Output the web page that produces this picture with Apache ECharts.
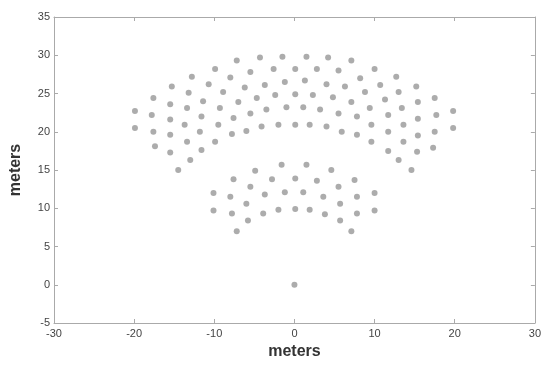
<!DOCTYPE html>
<html><head><meta charset="utf-8">
<script src="https://cdn.jsdelivr.net/npm/echarts@6/dist/echarts.min.js"></script>
<style>html,body{margin:0;padding:0;background:#fff}#c{width:544px;height:365px}</style>
</head><body><div id="c"></div>
<script>
// Upper group arcs, x and y in meters
var arc1X = [-19.9,-17.6,-15.3,-12.8,-9.9,-7.2,-4.3,-1.5,1.5,4.2,7.1,10.0,12.7,15.2,17.5,19.8];
var arc1Y = [22.7,24.4,25.9,27.2,28.2,29.3,29.7,29.8,29.8,29.7,29.3,28.2,27.2,25.9,24.4,22.7];
var arc2X = [-19.9,-17.8,-15.5,-13.2,-10.7,-8.0,-5.5,-2.6,0.1,2.8,5.5,8.2,10.7,13.0,15.4,17.7,19.8];
var arc2Y = [20.5,22.2,23.6,25.1,26.2,27.1,27.8,28.2,28.2,28.2,28.0,27.0,26.1,25.2,23.9,22.2,20.5];
var arc3X = [-17.6,-15.5,-13.4,-11.4,-8.9,-6.2,-3.7,-1.2,1.3,4.0,6.3,8.8,11.3,13.4,15.4,17.5];
var arc3Y = [20.0,21.6,23.1,24.0,25.2,25.8,26.1,26.5,26.7,26.2,25.9,25.2,24.2,23.1,21.7,20.0];
var arc4X = [-17.4,-15.5,-13.7,-11.6,-9.3,-7.0,-4.7,-2.4,0.1,2.3,4.8,7.1,9.4,11.7,13.6,15.4,17.3];
var arc4Y = [18.1,19.6,20.9,22.0,23.1,23.9,24.4,24.8,24.9,24.8,24.5,23.9,23.1,22.2,20.9,19.5,17.9];
var arc5X = [-15.5,-13.4,-11.8,-9.5,-7.6,-5.5,-3.5,-1.0,1.1,3.2,5.5,7.8,9.6,11.7,13.6,15.3];
var arc5Y = [17.3,18.7,20.0,20.9,21.8,22.4,22.9,23.2,23.2,22.9,22.4,22.0,20.9,20.0,18.7,17.4];
var arc6X = [-14.5,-13.0,-11.6,-9.9,-7.8,-6.0,-4.1,-2.0,0.1,1.9,4.0,5.9,7.8,9.6,11.7,13.0,14.6];
var arc6Y = [15.0,16.3,17.6,18.7,19.7,20.1,20.7,20.9,20.9,20.9,20.7,20.0,19.6,18.7,17.5,16.3,15.0];
// Lower group arcs
var low1X = [-10.1,-7.6,-4.9,-1.6,1.5,4.6,7.5,10.0];
var low1Y = [12.0,13.8,14.9,15.7,15.7,15.0,13.7,12.0];
var low2X = [-10.1,-8.0,-5.5,-2.8,0.1,2.8,5.5,7.8,10.0];
var low2Y = [9.7,11.5,12.8,13.8,13.9,13.6,12.8,11.5,9.7];
var low3X = [-7.8,-6.0,-3.7,-1.2,1.1,3.6,5.7,7.8];
var low3Y = [9.3,10.6,11.8,12.1,12.1,11.5,10.6,9.3];
var low4X = [-7.2,-5.8,-3.9,-2.0,0.1,1.9,3.8,5.7,7.1];
var low4Y = [7.0,8.4,9.3,9.8,9.9,9.8,9.2,8.4,7.0];
// Single point at origin
var originX = [0];
var originY = [0];

var xTicks = [-30,-20,-10,0,10,20,30];
var yTicks = [-5,0,5,10,15,20,25,30,35];

var allX = [].concat(arc1X,arc2X,arc3X,arc4X,arc5X,arc6X,low1X,low2X,low3X,low4X,originX);
var allY = [].concat(arc1Y,arc2Y,arc3Y,arc4Y,arc5Y,arc6Y,low1Y,low2Y,low3Y,low4Y,originY);
var pts = allX.map(function(x,i){return [x, allY[i]];});

var chart = echarts.init(document.getElementById('c'));
var lab = {fontFamily:'Liberation Sans, Arial', fontSize:11, color:'#444'};
var nameStyle = {fontFamily:'Liberation Sans, Arial',fontSize:16,fontWeight:'bold',color:'#333'};
var line = {show:true,onZero:false,lineStyle:{color:'#aaa'}};
var tick = {inside:true,length:4,lineStyle:{color:'#aaa'}};
chart.setOption({
  animation:false,
  grid:{left:54,right:9,top:17,bottom:42},
  xAxis:[{type:'value',min:xTicks[0],max:xTicks[xTicks.length-1],interval:10,
    name:'meters',nameLocation:'middle',nameGap:20,nameTextStyle:nameStyle,
    axisLine:line,axisTick:tick,
    axisLabel:Object.assign({margin:5},lab),splitLine:{show:false}},
    {type:'value',position:'top',min:-30,max:30,interval:10,
    axisLine:line,axisTick:tick,
    axisLabel:{show:false},splitLine:{show:false}}],
  yAxis:[{type:'value',min:yTicks[0],max:yTicks[yTicks.length-1],interval:5,
    name:'meters',nameLocation:'middle',nameGap:30,nameTextStyle:nameStyle,
    axisLine:line,axisTick:tick,
    axisLabel:Object.assign({margin:4},lab),splitLine:{show:false}},
    {type:'value',position:'right',min:-5,max:35,interval:5,
    axisLine:line,axisTick:tick,
    axisLabel:{show:false},splitLine:{show:false}}],
  series:[{type:'scatter',data:pts,symbolSize:6,
    itemStyle:{color:'#a3a3a3',opacity:0.9}}]
});
</script></body></html>
